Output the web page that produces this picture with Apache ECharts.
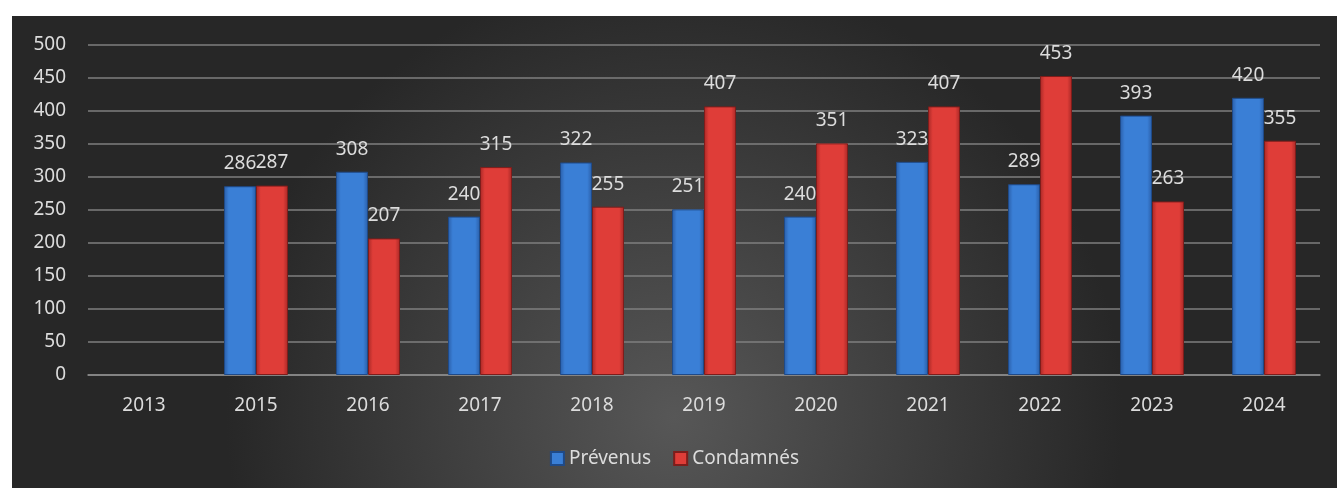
<!DOCTYPE html>
<html>
<head>
<meta charset="utf-8">
<script src="https://cdn.jsdelivr.net/npm/echarts@6/dist/echarts.min.js"></script>
<style>
  html, body { margin: 0; padding: 0; background: #ffffff; }
  #chart { position: absolute; left: 12px; top: 16px; width: 1325px; height: 472px; }
</style>
</head>
<body>
<div id="chart"></div>
<script>
const years = ["2013", "2015", "2016", "2017", "2018", "2019", "2020", "2021", "2022", "2023", "2024"];
const prevenus = [null, 286, 308, 240, 322, 251, 240, 323, 289, 393, 420];
const condamnes = [null, 287, 207, 315, 255, 407, 351, 407, 453, 263, 355];
const yTicks = { min: 0, max: 500, step: 50 };

const FONT = "Noto Sans";

function barGradient(dark, light) {
  return new echarts.graphic.LinearGradient(0, 0, 1, 0, [
    { offset: 0, color: dark },
    { offset: 0.15, color: light },
    { offset: 0.85, color: light },
    { offset: 1, color: dark },
  ]);
}

const chart = echarts.init(document.getElementById("chart"));

const labelStyle = {
  show: true,
  position: "top",
  distance: 13,
  color: "#dcdcdc",
  fontFamily: FONT,
  fontSize: 19,
};

chart.setOption({
  animation: false,
  backgroundColor: new echarts.graphic.RadialGradient(0.5, 0.85, 0.95, [
    { offset: 0, color: "#575757" },
    { offset: 1, color: "#272727" },
  ]),
  grid: { left: 76, right: 17, top: 29, bottom: 113, containLabel: false },
  legend: {
    bottom: 15,
    left: "center",
    itemWidth: 13,
    itemHeight: 13,
    itemGap: 22,
    icon: "rect",
    textStyle: { color: "#dcdcdc", fontFamily: FONT, fontSize: 19 },
    data: ["Prévenus", "Condamnés"],
  },
  xAxis: {
    type: "category",
    data: years,
    axisLine: { lineStyle: { color: "#8c8c8c", width: 1.5 } },
    axisTick: { show: false },
    axisLabel: { color: "#dcdcdc", fontFamily: FONT, fontSize: 19, margin: 21 },
  },
  yAxis: {
    type: "value",
    min: yTicks.min,
    max: yTicks.max,
    interval: yTicks.step,
    axisLine: { show: false },
    axisTick: { show: false },
    axisLabel: { color: "#dcdcdc", fontFamily: FONT, fontSize: 19, margin: 22 },
    splitLine: { lineStyle: { color: "#7f7f7f", width: 1.5 } },
  },
  series: [
    {
      name: "Prévenus",
      type: "bar",
      data: prevenus,
      barWidth: 32,
      barGap: "0%",
      itemStyle: {
        color: barGradient("#2a5ea8", "#3a7fd6"),
        borderColor: "#1f4a88",
        borderWidth: 1,
      },
      label: labelStyle,
    },
    {
      name: "Condamnés",
      type: "bar",
      data: condamnes,
      barWidth: 32,
      itemStyle: {
        color: barGradient("#a82826", "#df3d38"),
        borderColor: "#7e1d1b",
        borderWidth: 1,
      },
      label: labelStyle,
    },
  ],
});
</script>
</body>
</html>
